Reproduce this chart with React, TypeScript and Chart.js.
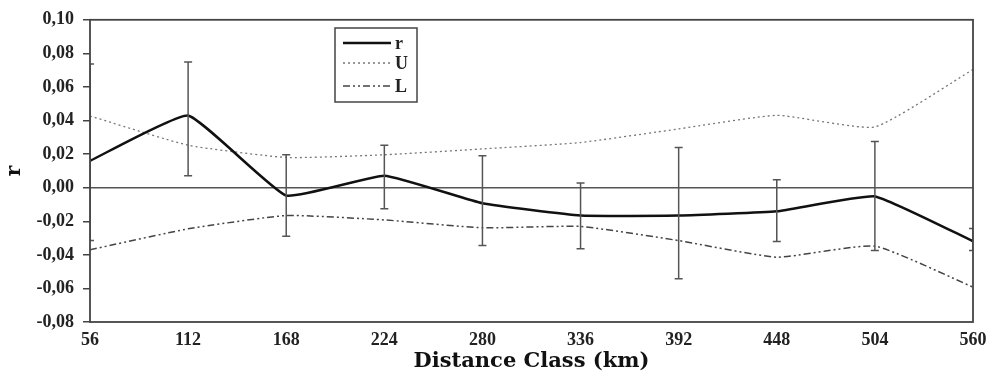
import React, { useEffect, useRef } from "react";
import { Chart, registerables } from "chart.js";

Chart.register(...registerables);

const distances = [56, 112, 168, 224, 280, 336, 392, 448, 504, 560];
const rValues = [0.016, 0.043, -0.0047, 0.0071, -0.0093, -0.0166, -0.0166, -0.0141, -0.0052, -0.0319];
const rErrHigh = [0.0736, 0.0748, 0.0196, 0.0253, 0.019, 0.0028, 0.0239, 0.0047, 0.0275, -0.0243];
const rErrLow = [-0.0315, 0.0071, -0.0289, -0.0126, -0.0344, -0.0364, -0.0542, -0.032, -0.0374, -0.0374];
const uValues = [0.0427, 0.0253, 0.018, 0.0196, 0.0231, 0.0269, 0.035, 0.0431, 0.0362, 0.0704];
const lValues = [-0.037, -0.0245, -0.0166, -0.0192, -0.0239, -0.0231, -0.0315, -0.0414, -0.0348, -0.0592];
const yTicks = [-0.08, -0.06, -0.04, -0.02, 0, 0.02, 0.04, 0.06, 0.08, 0.1];
const seriesNames = ["r", "U", "L"];

const FONT = "'Liberation Serif', 'Times New Roman', serif";
const WIDE = "'DejaVu Serif', serif";

const frameAndErrors = {
  id: "frameAndErrors",
  afterDatasetsDraw(chart: any) {
    const { ctx, chartArea, scales } = chart;
    const xs = scales.x;
    const ys = scales.y;
    ctx.save();
    ctx.beginPath();
    ctx.rect(chartArea.left, chartArea.top - 2, chartArea.right - chartArea.left, chartArea.bottom - chartArea.top + 4);
    ctx.clip();
    ctx.strokeStyle = "#555";
    ctx.lineWidth = 1.5;
    ctx.setLineDash([]);
    distances.forEach((d, i) => {
      const x = xs.getPixelForValue(d);
      const yT = ys.getPixelForValue(rErrHigh[i]);
      const yB = ys.getPixelForValue(rErrLow[i]);
      ctx.beginPath();
      ctx.moveTo(x, yT);
      ctx.lineTo(x, yB);
      ctx.moveTo(x - 4, yT);
      ctx.lineTo(x + 4, yT);
      ctx.moveTo(x - 4, yB);
      ctx.lineTo(x + 4, yB);
      ctx.stroke();
    });
    ctx.restore();
  },
  afterDraw(chart: any) {
    const { ctx, chartArea } = chart;
    ctx.save();
    ctx.strokeStyle = "#444";
    ctx.lineWidth = 1.8;
    ctx.setLineDash([]);
    ctx.strokeRect(chartArea.left, chartArea.top, chartArea.right - chartArea.left, chartArea.bottom - chartArea.top);

    // legend box
    const bx = 335, by = 28, bw = 82, bh = 74;
    ctx.fillStyle = "#fff";
    ctx.fillRect(bx, by, bw, bh);
    ctx.strokeStyle = "#444";
    ctx.lineWidth = 1.5;
    ctx.strokeRect(bx, by, bw, bh);
    const styles = [
      { color: "#111", width: 2.5, dash: [] as number[] },
      { color: "#777", width: 1.3, dash: [2, 3] },
      { color: "#444", width: 1.5, dash: [7, 3, 2, 3, 2, 3] },
    ];
    const rows = [43, 63, 86];
    ctx.font = `bold 18px ${FONT}`;
    ctx.textBaseline = "middle";
    ctx.textAlign = "left";
    seriesNames.forEach((n, i) => {
      const s = styles[i];
      ctx.strokeStyle = s.color;
      ctx.lineWidth = s.width;
      ctx.setLineDash(s.dash);
      ctx.beginPath();
      ctx.moveTo(343, rows[i]);
      ctx.lineTo(391, rows[i]);
      ctx.stroke();
      ctx.fillStyle = "#222";
      ctx.fillText(n, 395, rows[i] + 1);
    });
    ctx.restore();
  },
};

export default function App() {
  const ref = useRef<HTMLCanvasElement | null>(null);
  useEffect(() => {
    if (!ref.current) return;
    const mk = (arr: number[]) => distances.map((d, i) => ({ x: d, y: arr[i] }));
    const chart = new Chart(ref.current, {
      type: "line",
      data: {
        datasets: [
          {
            label: seriesNames[0],
            data: mk(rValues),
            borderColor: "#111",
            borderWidth: 2.5,
            pointRadius: 0,
            tension: 0.12,
            order: 0,
          },
          {
            label: seriesNames[1],
            data: mk(uValues),
            borderColor: "#777",
            borderWidth: 1.3,
            borderDash: [2, 3],
            pointRadius: 0,
            tension: 0.15,
            order: 1,
          },
          {
            label: seriesNames[2],
            data: mk(lValues),
            borderColor: "#444",
            borderWidth: 1.5,
            borderDash: [7, 3, 2, 3, 2, 3],
            pointRadius: 0,
            tension: 0.15,
            order: 2,
          },
        ],
      },
      options: {
        animation: false,
        responsive: true,
        maintainAspectRatio: false,
        layout: { padding: { left: 0, right: 25, top: 18, bottom: 0 } },
        plugins: { legend: { display: false }, tooltip: { enabled: false } },
        scales: {
          x: {
            type: "linear",
            min: 56,
            max: 560,
            afterBuildTicks: (s: any) => {
              s.ticks = distances.map((v) => ({ value: v }));
            },
            afterFit: (s: any) => {
              s.height = 59;
            },
            grid: { display: false, drawTicks: false },
            border: { display: false },
            ticks: {
              color: "#222",
              padding: 8,
              maxRotation: 0,
              autoSkip: false,
              font: { family: FONT, size: 18, weight: "bold" },
              callback: (v: any) => String(v),
            },
            title: {
              display: true,
              text: "Distance Class (km)",
              color: "#111",
              font: { family: WIDE, size: 21, weight: "bold" },
              padding: { top: 0, bottom: 7 },
            },
          },
          y: {
            min: -0.08,
            max: 0.1,
            afterBuildTicks: (s: any) => {
              s.ticks = yTicks.map((v) => ({ value: v }));
            },
            afterFit: (s: any) => {
              s.width = 90;
            },
            grid: {
              drawTicks: true,
              tickLength: 7,
              tickColor: "#444",
              lineWidth: 1.5,
              color: (c: any) => (c.tick && Math.abs(c.tick.value) < 1e-9 ? "#555" : "rgba(0,0,0,0)"),
            },
            border: { display: false },
            ticks: {
              color: "#222",
              padding: 9,
              font: { family: FONT, size: 18, weight: "bold" },
              callback: (v: any) => Number(v).toFixed(2).replace(".", ","),
            },
            title: {
              display: true,
              text: "r",
              color: "#111",
              font: { family: WIDE, size: 20, weight: "bold" },
              padding: { top: 3, bottom: 0 },
            },
          },
        },
      },
      plugins: [frameAndErrors],
    });
    return () => chart.destroy();
  }, []);
  return (
    <div style={{ position: "fixed", left: 0, top: 0, width: 998, height: 381, background: "#fff" }}>
      <canvas ref={ref} />
    </div>
  );
}
